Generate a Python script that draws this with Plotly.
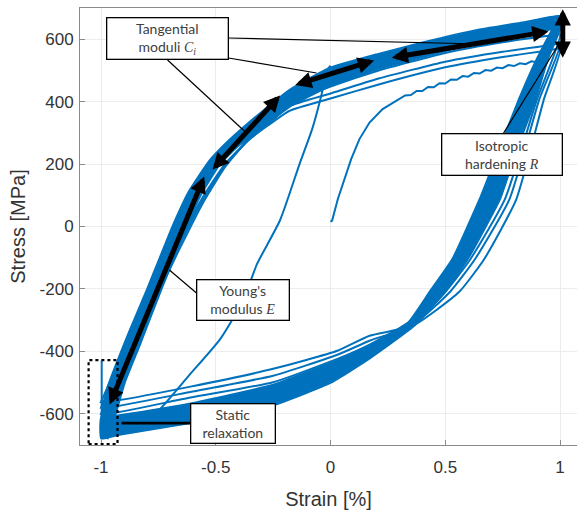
import plotly.graph_objects as go

BLUE = "#0072BD"

# ---- data (strain in %, stress in MPa) ----
# thick band of stabilised cycles, loading branch (-1 -> +1): outer / inner edges
up_out_strain = [-1.0, -0.975, -0.94, -0.88, -0.80, -0.745, -0.69, -0.62, -0.53, -0.45, -0.37, -0.25, -0.18, -0.10, 0.0, 0.20, 0.40, 0.65, 0.85, 1.0]
up_out_stress = [-620, -520, -450, -340, -200, -100, 0, 110, 210, 272, 325, 398, 438, 472, 510, 552, 590, 632, 656, 675]
up_in_strain = [-0.97, -0.935, -0.895, -0.83, -0.735, -0.68, -0.625, -0.565, -0.48, -0.41, -0.33, -0.18, 0.0, 0.20, 0.40, 0.65, 0.85, 1.0]
up_in_stress = [-680, -600, -500, -380, -200, -100, 0, 100, 200, 252, 298, 382, 450, 502, 542, 588, 614, 640]

# thick band, unloading branch (+1 -> -1)
dn_out_strain = [1.0, 0.90, 0.82, 0.73, 0.65, 0.53, 0.43, 0.34, 0.17, 0.0, -0.25, -0.61, -0.92, -1.0]
dn_out_stress = [675, 540, 408, 240, 90, -104, -210, -305, -378, -436, -506, -566, -604, -612]
dn_in_strain = [1.0, 0.95, 0.895, 0.81, 0.74, 0.60, 0.50, 0.36, 0.17, 0.0, -0.25, -0.61, -0.92, -1.0]
dn_in_stress = [630, 540, 408, 240, 88, -104, -210, -322, -424, -502, -574, -630, -668, -680]

# early cycles (thin separate lines)
early_dn_strain = [
    [1.0, 0.93, 0.81, 0.67, 0.56, 0.36, 0.17, 0.03, -0.25, -0.61, -0.92, -1.0],
    [1.0, 0.91, 0.78, 0.63, 0.52, 0.355, 0.17, 0.03, -0.25, -0.61, -0.92, -1.0],
    [1.0, 0.90, 0.76, 0.61, 0.50, 0.35, 0.17, 0.03, -0.25, -0.61, -0.92, -1.0],
]
early_dn_stress = [
    [568, 408, 88, -104, -210, -318, -350, -398, -456, -513, -556, -562],
    [585, 408, 88, -104, -210, -318, -366, -411, -478, -530, -574, -580],
    [615, 408, 88, -104, -210, -318, -382, -424, -499, -548, -594, -600],
]
early_up_strain = [-1.0, -0.95, -0.86, -0.76, -0.66, -0.56, -0.46, -0.36, -0.27, -0.18, 0.0, 0.21, 0.5, 0.75, 0.94, 1.0]
early_up_stress = [
    [-562, -480, -350, -200, -50, 90, 200, 275, 325, 370, 410, 455, 510, 543, 563, 568],
    [-580, -495, -365, -215, -62, 80, 195, 275, 330, 385, 426, 474, 528, 560, 579, 585],
    [-600, -510, -380, -228, -75, 70, 190, 278, 335, 392, 448, 500, 556, 590, 610, 615],
]

# initial (monotonic) loading with serrations
init_strain = [0.0, 0.007, 0.032, 0.061, 0.09, 0.126, 0.17, 0.227, 0.30, 0.325, 0.35, 0.375, 0.40, 0.425, 0.45,
               0.475, 0.50, 0.525, 0.55, 0.575, 0.60, 0.625, 0.65, 0.675, 0.70, 0.725, 0.75, 0.775, 0.80,
               0.825, 0.85, 0.875, 0.90, 0.92]
init_stress = [15, 19, 88, 152, 216, 280, 333, 376, 408, 420, 421, 434, 434, 447, 446,
               459, 458, 471, 470, 482, 480, 492, 490, 501, 499, 509, 507, 517, 514,
               523, 520, 529, 526, 533]

# last partial reloading from compression
final_strain = [-0.85, -0.80, -0.75, -0.62, -0.48, -0.38, -0.32, -0.22, -0.135, -0.08, -0.04, -0.015, 0.0]
final_stress = [-645, -615, -590, -480, -360, -235, -120, 20, 200, 312, 420, 500, 515]

# static relaxation at -1 %
relax_strain = [-0.997, -0.997]
relax_stress = [-640, -429]

x_ticks = [-1, -0.5, 0, 0.5, 1]
x_ticktext = ["-1", "-0.5", "0", "0.5", "1"]
y_ticks = [-600, -400, -200, 0, 200, 400, 600]
y_ticktext = ["-600", "-400", "-200", "0", "200", "400", "600"]

# arrows: (x_start, y_start, x_end, y_end)
arrows = {
    "E": (-0.965, -575, -0.55, 160),
    "C1": (-0.52, 178, -0.22, 420),
    "C2": (-0.16, 452, 0.19, 532),
    "C3": (0.26, 540, 0.95, 625),
    "R": (1.012, 536, 1.012, 696),
}

fig = go.Figure()

def band(out_x, out_y, in_x, in_y):
    xs = list(out_x) + list(reversed(in_x)) + [out_x[0]]
    ys = list(out_y) + list(reversed(in_y)) + [out_y[0]]
    fig.add_trace(go.Scatter(x=xs, y=ys, mode="lines", fill="toself", fillcolor=BLUE,
                             line=dict(color=BLUE, width=1.5, shape="spline", smoothing=0.4),
                             hoverinfo="skip", showlegend=False))

band(up_out_strain, up_out_stress, up_in_strain, up_in_stress)
band(dn_out_strain, dn_out_stress, dn_in_strain, dn_in_stress)

for i in range(3):
    fig.add_trace(go.Scatter(x=early_dn_strain[i] + early_up_strain, y=early_dn_stress[i] + early_up_stress[i],
                             mode="lines", line=dict(color=BLUE, width=2, shape="spline", smoothing=0.5),
                             showlegend=False))

fig.add_trace(go.Scatter(x=init_strain, y=init_stress, mode="lines",
                         line=dict(color=BLUE, width=2), showlegend=False))
fig.add_trace(go.Scatter(x=final_strain, y=final_stress, mode="lines",
                         line=dict(color=BLUE, width=2, shape="spline", smoothing=0.6), showlegend=False))
fig.add_trace(go.Scatter(x=relax_strain, y=relax_stress, mode="lines",
                         line=dict(color=BLUE, width=2), showlegend=False))

annotations = []
for key, (x0, y0, x1, y1) in arrows.items():
    annotations.append(dict(x=x1, y=y1, ax=x0, ay=y0, xref="x", yref="y", axref="x", ayref="y",
                            text="", showarrow=True, arrowhead=2, startarrowhead=2,
                            arrowside="end+start", arrowsize=0.65, startarrowsize=0.65,
                            arrowwidth=5, arrowcolor="black"))

MATH = "font-family:'Liberation Serif','DejaVu Serif',serif;font-style:italic"
boxes = [
    ("Tangential<br>moduli <span style=\"%s\">C</span><sub><span style=\"%s\">i</span></sub>" % (MATH, MATH), -0.710, 601, 118, 38),
    ("Isotropic<br>hardening <span style=\"%s\">R</span>" % MATH, 0.747, 232, 117, 38),
    ("Young's<br>modulus <span style=\"%s\">E</span>" % MATH, -0.381, -237, 89, 37),
    ("Static<br>relaxation", -0.425, -630, 81, 36),
]
for txt, bx, by, w, h in boxes:
    annotations.append(dict(x=bx, y=by, xref="x", yref="y", text=txt, showarrow=False,
                            xanchor="center", yanchor="middle", width=w, height=h,
                            bgcolor="white", bordercolor="black", borderwidth=1.3, borderpad=1,
                            font=dict(family="Lato, 'Noto Sans', sans-serif", size=14, color="#404040")))

shapes = []
connectors = [
    (-0.444, 603.9, 0.649, 584.6),
    (-0.444, 539.8, -0.061, 491.7),
    (-0.710, 533.4, -0.366, 299.5),
    (-0.584, -213.2, -0.702, -139.5),
    (0.754, 299.5, 0.998, 587.9),
]
for x0, y0, x1, y1 in connectors:
    shapes.append(dict(type="line", xref="x", yref="y", x0=x0, y0=y0, x1=x1, y1=y1,
                       line=dict(color="black", width=1.2)))
shapes.append(dict(type="line", xref="x", yref="y", x0=-0.911, y0=-629.7, x1=-0.610, y1=-629.7,
                   line=dict(color="black", width=2.8)))
shapes.append(dict(type="rect", xref="x", yref="y", x0=-1.054, y0=-697, x1=-0.928, y1=-428,
                   line=dict(color="black", width=2.2, dash="dot")))

axis_common = dict(showline=True, linecolor="#8a8a8a", linewidth=1, mirror=True,
                   ticks="inside", ticklen=5, tickcolor="#8a8a8a",
                   showgrid=True, gridcolor="#ececec", gridwidth=1, zeroline=False,
                   tickfont=dict(family="Liberation Sans, Arial, sans-serif", size=17, color="#333333"))

fig.update_layout(
    width=577, height=515,
    margin=dict(l=80, r=0, t=8, b=70),
    paper_bgcolor="white", plot_bgcolor="white",
    xaxis=dict(range=[-1.0915, 1.074], tickvals=x_ticks, ticktext=x_ticktext, ticklabelstandoff=7,
               title=dict(text="Strain [%]", standoff=15,
                          font=dict(family="Liberation Sans, Arial, sans-serif", size=20, color="#333333")),
               **axis_common),
    yaxis=dict(range=[-700, 700], tickvals=y_ticks, ticktext=y_ticktext, ticklabelstandoff=2,
               title=dict(text="Stress [MPa]", standoff=8,
                          font=dict(family="Liberation Sans, Arial, sans-serif", size=20, color="#333333")),
               **axis_common),
    annotations=annotations,
    shapes=shapes,
    showlegend=False,
)

fig.write_html("out.html")
